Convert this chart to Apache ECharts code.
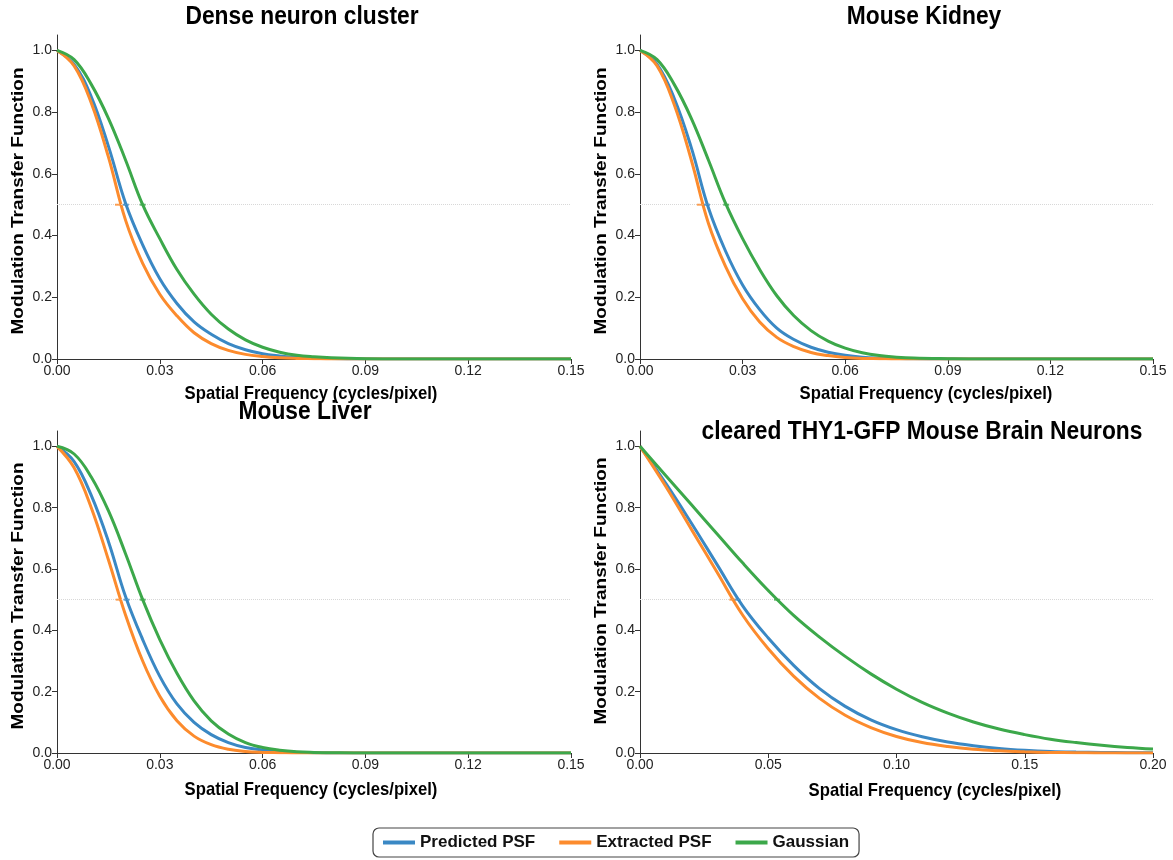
<!DOCTYPE html>
<html>
<head>
<meta charset="utf-8">
<script src="https://cdn.jsdelivr.net/npm/echarts@6/dist/echarts.min.js"></script>
<style>
  html, body { margin: 0; padding: 0; background: #fff; }
  #chart { width: 1173px; height: 860px; }
</style>
</head>
<body>
<div id="chart"></div>
<script>
// Panel titles
const panelTitles = ['Dense neuron cluster', 'Mouse Kidney', 'Mouse Liver', 'cleared THY1-GFP Mouse Brain Neurons'];
const seriesNames = ['Predicted PSF', 'Extracted PSF', 'Gaussian'];

// Spatial frequency samples (cycles/pixel)
const freqA = [0, 0.005, 0.01, 0.015, 0.02, 0.025, 0.03, 0.035, 0.04, 0.045, 0.05, 0.055, 0.06, 0.065, 0.07, 0.075, 0.08, 0.09, 0.1, 0.12, 0.15];
const freqB = [0, 0.01, 0.02, 0.03, 0.04, 0.05, 0.06, 0.07, 0.08, 0.09, 0.1, 0.11, 0.12, 0.13, 0.14, 0.15, 0.16, 0.17, 0.18, 0.19, 0.2];

// Dense neuron cluster
const denseBlue   = [1, 0.955, 0.85, 0.69, 0.505, 0.37, 0.26, 0.18, 0.12, 0.08, 0.05, 0.03, 0.017, 0.01, 0.005, 0.003, 0.0015, 0, 0, 0, 0];
const denseOrange = [1, 0.95, 0.83, 0.655, 0.45, 0.31, 0.21, 0.14, 0.085, 0.05, 0.028, 0.015, 0.008, 0.004, 0.002, 0.001, 0, 0, 0, 0, 0];
const denseGreen  = [1, 0.97, 0.89, 0.78, 0.645, 0.50, 0.39, 0.29, 0.21, 0.145, 0.097, 0.062, 0.038, 0.022, 0.012, 0.007, 0.004, 0.001, 0, 0, 0];

// Mouse Kidney
const kidneyBlue   = [1, 0.955, 0.845, 0.685, 0.49, 0.35, 0.24, 0.16, 0.10, 0.063, 0.038, 0.022, 0.012, 0.006, 0.003, 0.0015, 0.0005, 0, 0, 0, 0];
const kidneyOrange = [1, 0.95, 0.825, 0.645, 0.44, 0.30, 0.195, 0.12, 0.07, 0.04, 0.021, 0.011, 0.005, 0.002, 0.001, 0, 0, 0, 0, 0, 0];
const kidneyGreen  = [1, 0.97, 0.89, 0.78, 0.645, 0.505, 0.39, 0.29, 0.205, 0.14, 0.092, 0.058, 0.035, 0.02, 0.011, 0.006, 0.003, 0.001, 0, 0, 0];

// Mouse Liver
const liverBlue   = [1, 0.95, 0.84, 0.69, 0.51, 0.37, 0.25, 0.16, 0.10, 0.06, 0.034, 0.018, 0.01, 0.005, 0.002, 0.001, 0, 0, 0, 0, 0];
const liverOrange = [1, 0.93, 0.80, 0.63, 0.45, 0.30, 0.185, 0.105, 0.055, 0.027, 0.012, 0.005, 0.002, 0.001, 0, 0, 0, 0, 0, 0, 0];
const liverGreen  = [1, 0.975, 0.90, 0.79, 0.65, 0.50, 0.37, 0.26, 0.17, 0.105, 0.062, 0.034, 0.018, 0.009, 0.004, 0.002, 0.001, 0, 0, 0, 0];

// cleared THY1-GFP Mouse Brain Neurons
const brainBlue   = [1, 0.88, 0.75, 0.615, 0.48, 0.375, 0.285, 0.21, 0.152, 0.108, 0.076, 0.053, 0.036, 0.024, 0.015, 0.009, 0.005, 0.003, 0.002, 0.001, 0.0005];
const brainOrange = [1, 0.87, 0.73, 0.59, 0.45, 0.34, 0.25, 0.178, 0.123, 0.083, 0.054, 0.034, 0.021, 0.012, 0.007, 0.004, 0.002, 0.001, 0, 0, 0];
const brainGreen  = [1, 0.905, 0.81, 0.715, 0.62, 0.53, 0.448, 0.378, 0.315, 0.258, 0.208, 0.165, 0.13, 0.101, 0.078, 0.06, 0.045, 0.034, 0.025, 0.018, 0.013];

// Half-maximum frequencies [blue, orange, green]
const halfMax = [
  [0.0201, 0.0178, 0.025],
  [0.0196, 0.0175, 0.0252],
  [0.0203, 0.018, 0.025],
  [0.038, 0.036, 0.0534]
];

const xMax = [0.15, 0.15, 0.15, 0.2];
const xStep = [0.03, 0.03, 0.03, 0.05];
const yTicks = [0, 0.2, 0.4, 0.6, 0.8, 1.0];

const colors = ['#3a88c4', '#fc8b2d', '#3ca84a'];
const fontFam = '"Liberation Sans", Arial, Helvetica, sans-serif';
// the source figure's lettering is a bit squeezed sideways
const squeeze = 0.877;

const panels = [
  { freq: freqA, lines: [denseBlue, denseOrange, denseGreen] },
  { freq: freqA, lines: [kidneyBlue, kidneyOrange, kidneyGreen] },
  { freq: freqA, lines: [liverBlue, liverOrange, liverGreen] },
  { freq: freqB, lines: [brainBlue, brainOrange, brainGreen] }
];

const grids = [
  { left: 57, top: 35, width: 514, height: 324 },
  { left: 640, top: 35, width: 513, height: 324 },
  { left: 57, top: 431, width: 514, height: 322 },
  { left: 640, top: 431, width: 513, height: 322 }
];

// where the surrounding texts sit
const titlePos = [[302, 17], [924, 17], [305, 412], [922, 432]];
const xNamePos = [[311, 394], [926, 394], [311, 790], [935, 791]];
const yNamePos = [[18, 201], [601, 201], [18, 596], [601, 591]];

const axisLineStyle = { color: '#333', width: 1 };
const toPairs = (xs, ys) => xs.map((x, i) => [x, ys[i]]);

let xAxes = [], yAxes = [], series = [], graphics = [];

panels.forEach((p, k) => {
  xAxes.push({
    type: 'value', gridIndex: k, min: 0, max: xMax[k], interval: xStep[k],
    axisLine: { show: true, onZero: false, lineStyle: axisLineStyle },
    axisTick: { show: true, length: 5, lineStyle: axisLineStyle },
    axisLabel: { color: '#222', fontSize: 14, fontFamily: fontFam, margin: 5,
      formatter: v => v.toFixed(2) },
    splitLine: { show: false }
  });
  yAxes.push({
    type: 'value', gridIndex: k, min: 0, max: 1.05,
    axisLine: { show: true, onZero: false, lineStyle: axisLineStyle },
    axisTick: { show: true, length: 5, lineStyle: axisLineStyle, customValues: yTicks },
    axisLabel: { color: '#222', fontSize: 14, fontFamily: fontFam, margin: 5,
      customValues: yTicks, formatter: v => v.toFixed(1) },
    splitLine: { show: false }
  });

  p.lines.forEach((vals, j) => {
    let s = {
      name: seriesNames[j],
      type: 'line',
      xAxisIndex: k, yAxisIndex: k,
      data: toPairs(p.freq, vals),
      smooth: 0.4,
      showSymbol: false,
      lineStyle: { color: colors[j], width: 3 },
      itemStyle: { color: colors[j] },
      z: 3 + j
    };
    if (j === 0) {
      s.markLine = {
        silent: true, symbol: 'none', label: { show: false },
        lineStyle: { type: 'dotted', color: '#d8d8d8', width: 1 },
        data: [{ yAxis: 0.5 }]
      };
    }
    series.push(s);

    // small mark at the half maximum
    series.push({
      type: 'scatter',
      xAxisIndex: k, yAxisIndex: k,
      data: [[halfMax[k][j], 0.5]],
      symbol: 'rect', symbolSize: [6, 2],
      itemStyle: { color: colors[j] },
      silent: true, z: 6
    });
  });

  graphics.push({
    type: 'text', x: titlePos[k][0], y: titlePos[k][1], scaleX: squeeze,
    style: { text: panelTitles[k], textAlign: 'center', textVerticalAlign: 'middle',
      font: 'bold 26px ' + fontFam, fill: '#000' }
  });
  graphics.push({
    type: 'text', x: xNamePos[k][0], y: xNamePos[k][1], scaleX: squeeze,
    style: { text: 'Spatial Frequency (cycles/pixel)', textAlign: 'center', textVerticalAlign: 'middle',
      font: 'bold 19px ' + fontFam, fill: '#000' }
  });
  graphics.push({
    type: 'text', x: yNamePos[k][0], y: yNamePos[k][1], rotation: Math.PI / 2, scaleY: squeeze,
    style: { text: 'Modulation Transfer Function', textAlign: 'center', textVerticalAlign: 'middle',
      font: 'bold 19px ' + fontFam, fill: '#000' }
  });
});

let myChart = echarts.init(document.getElementById('chart'));

const option = {
  backgroundColor: '#fff',
  animation: false,
  grid: grids,
  xAxis: xAxes,
  yAxis: yAxes,
  legend: {
    data: seriesNames,
    left: 373,
    bottom: 3,
    icon: 'rect',
    itemWidth: 32,
    itemHeight: 4,
    itemGap: 24,
    padding: [6, 10],
    borderColor: '#444',
    borderWidth: 1.2,
    borderRadius: 6,
    textStyle: { fontSize: 17, fontWeight: 'bold', color: '#111', fontFamily: fontFam }
  },
  graphic: graphics,
  series: series
};

if (option && typeof option === "object") {
  myChart.setOption(option, true);
}
</script>
</body>
</html>
